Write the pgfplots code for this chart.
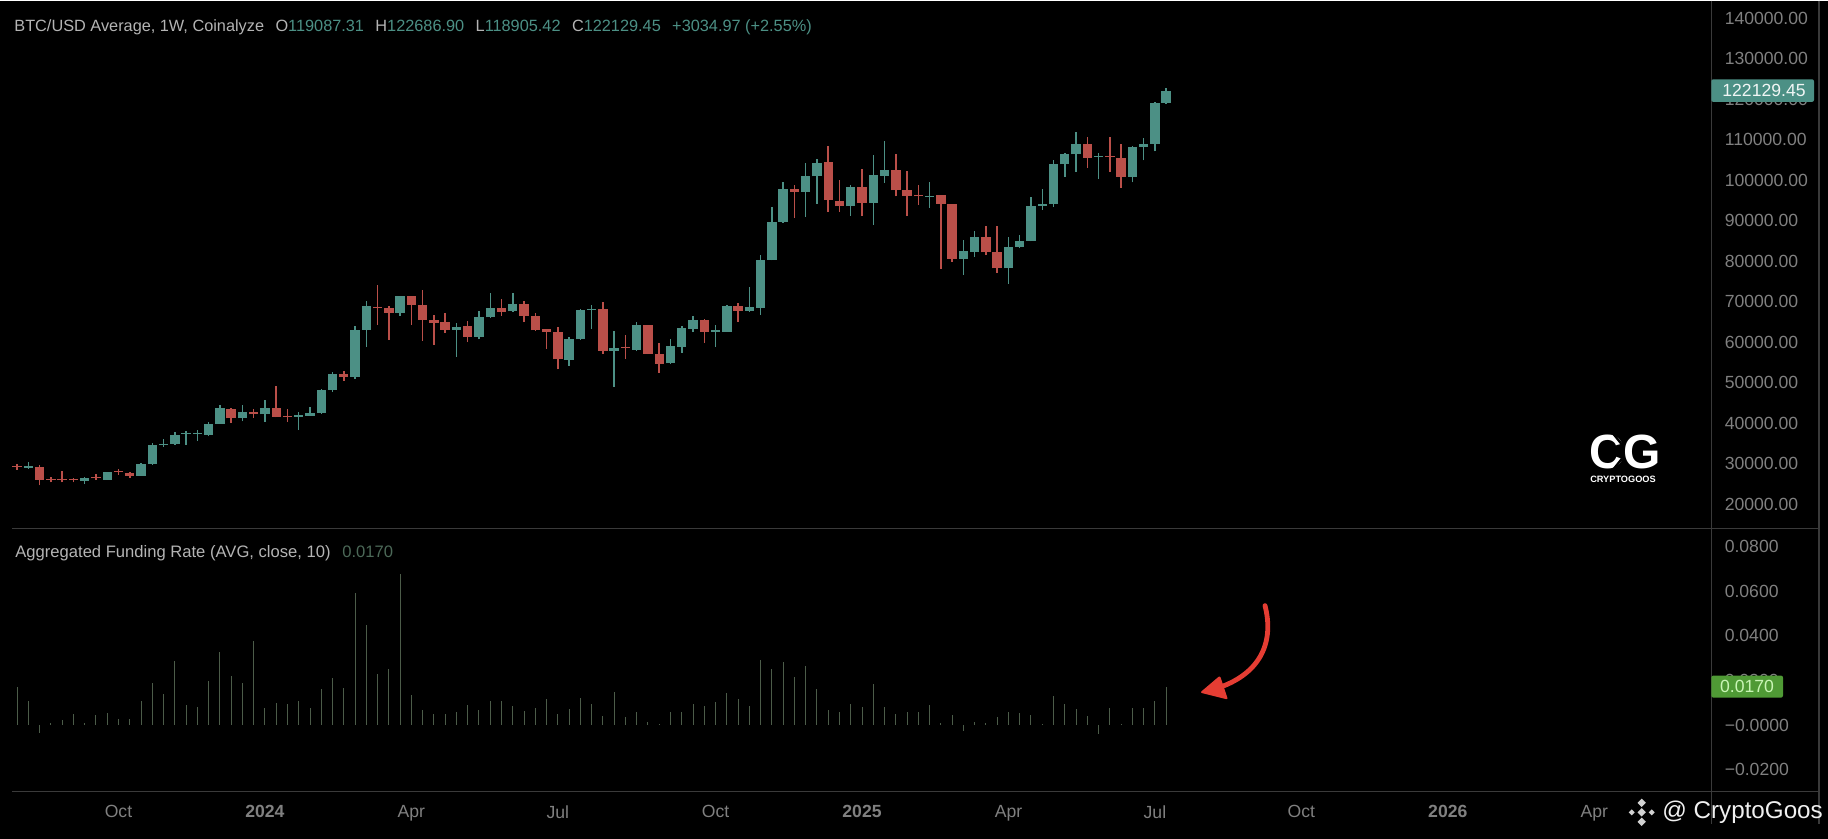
\documentclass[border=0pt]{standalone}
\usepackage{fontspec}
\setmainfont{Liberation Sans}
\usepackage{pgfplots}
\usepackage{pgfplotstable}
\pgfplotsset{compat=1.18}
\definecolor{bgc}{HTML}{000000}
\definecolor{cG}{HTML}{4C9085}
\definecolor{cR}{HTML}{BA4F49}
\definecolor{lineC}{HTML}{3A3A3A}
\definecolor{tickC}{HTML}{808080}
\definecolor{headC}{HTML}{B4B4B4}
\definecolor{barC}{HTML}{4C5C49}
\definecolor{arrowC}{HTML}{E53D33}
\definecolor{tagG}{HTML}{4F9A35}
\definecolor{tagT}{HTML}{C9F5B5}
\definecolor{wmC}{HTML}{D0D0D0}
\pgfplotstableread{
i o h l c
1 29060 30380 28730 29560
6 25690 26840 24950 26510
8 26100 28080 26020 27990
11 27090 30300 27010 29890
12 29890 35150 29800 34580
13 34580 36060 34250 34990
14 34910 37870 34740 37050
15 37380 38030 34740 37620
16 37380 38360 35730 37620
17 37210 40260 36800 39930
18 39930 44620 39840 43710
20 41240 44540 40500 42890
22 42230 45850 40420 43790
25 41660 42810 38450 41980
26 41900 43960 41820 42560
27 42480 48400 42400 48320
28 48240 52770 47750 52110
30 51530 64120 50960 63140
31 63140 70300 58940 68900
34 67170 71530 66510 71370
39 63140 64700 56470 63880
41 61410 67740 60750 66260
42 66180 72110 66100 68570
44 67660 72110 67580 69550
49 55650 61240 54160 60830
50 60750 68240 60670 68070
51 68070 69310 63380 68240
53 57950 62720 49060 58610
55 58200 64950 57790 64370
58 54820 60830 54740 59020
59 58940 64120 57460 63630
60 63380 66430 62480 65600
62 62640 64370 58860 62970
63 62640 69310 62560 69060
65 67740 73750 67580 68730
66 68570 81650 66760 80420
67 80330 93420 80250 89800
68 89800 99590 89550 97950
70 97120 104280 91030 101070
71 100990 105190 94160 104370
74 93580 98850 91280 98360
76 94410 106340 89060 101240
77 101160 109720 99350 102560
81 96050 99510 93260 96220
84 80580 85350 76630 82560
85 82310 87410 81160 85930
88 78280 86010 74490 83630
89 83540 86510 83210 85030
90 85030 95970 84940 93670
91 93670 97860 92680 94160
92 94240 105020 93420 104040
93 103950 106670 100830 106590
94 106420 112020 102060 108970
96 105850 106830 100420 106010
99 100830 108400 99510 108320
100 108230 110460 104940 109060
101 109060 119400 107160 119090
102 119087 122687 118905 122129
}\greentab
\pgfplotstableread{
i o h l c
0 29470 29970 28490 29150
2 29310 29640 24700 26020
3 26350 26840 25440 26020
4 26270 28160 25440 25940
5 26180 26510 25440 25940
7 26760 27420 25940 26430
9 28320 28820 27330 27990
10 27750 27990 26590 27090
19 43630 43710 40170 41240
21 42890 43550 41410 42230
23 43790 49140 41490 41570
24 41900 43550 40340 41570
29 52110 52930 50540 51530
32 68810 74080 64370 68400
33 68400 69060 60670 67170
35 71370 71450 64370 69310
36 69310 72930 60340 65520
37 65520 66840 59430 64860
38 64950 67330 62390 63050
40 64040 65360 60010 61410
43 68570 70790 66590 67580
45 69470 70130 64950 66430
46 66590 67170 62890 62970
47 63220 63220 58360 62480
48 62560 63710 53340 55810
52 68160 70050 57130 57950
54 58860 61820 55890 58610
56 64290 64370 57050 57130
57 57210 59760 52440 54660
61 65600 65690 59840 62640
64 69060 69640 65110 67740
69 97950 98850 90700 97210
72 104530 108400 92270 95070
73 94980 100000 92270 93580
75 98360 102880 91120 94410
78 102560 106590 96050 97530
79 97620 102390 91120 96220
80 96460 98930 94000 96050
82 96300 96380 78110 94160
83 94160 94240 79840 80580
86 86100 88810 81490 82230
87 82310 88650 77210 78280
95 108970 110790 103130 105600
97 105930 110790 102060 105760
98 105600 108970 98110 100830
}\redtab
\pgfplotstableread{
i f
0 0.0169
1 0.0107
2 -0.0034
3 0.0010
4 0.0022
5 0.0049
6 0.0007
7 0.0043
8 0.0052
9 0.0025
10 0.0025
11 0.0107
12 0.0190
13 0.0137
14 0.0288
15 0.0090
16 0.0079
17 0.0197
18 0.0327
19 0.0218
20 0.0187
21 0.0376
22 0.0076
23 0.0100
24 0.0094
25 0.0109
26 0.0076
27 0.0161
28 0.0211
29 0.0166
30 0.0590
31 0.0446
32 0.0227
33 0.0252
34 0.0676
35 0.0136
36 0.0067
37 0.0049
38 0.0049
39 0.0058
40 0.0088
41 0.0067
42 0.0109
43 0.0107
44 0.0085
45 0.0064
46 0.0075
47 0.0116
48 0.0048
49 0.0072
50 0.0121
51 0.0094
52 0.0042
53 0.0149
54 0.0034
55 0.0057
56 0.0012
57 0.0004
58 0.0057
59 0.0057
60 0.0093
61 0.0087
62 0.0102
63 0.0143
64 0.0118
65 0.0087
66 0.0291
67 0.0251
68 0.0284
69 0.0216
70 0.0264
71 0.0160
72 0.0067
73 0.0057
74 0.0093
75 0.0081
76 0.0182
77 0.0082
78 0.0049
79 0.0058
80 0.0057
81 0.0088
82 0.0007
83 0.0045
84 -0.0025
85 0.0012
86 0.0007
87 0.0037
88 0.0058
89 0.0052
90 0.0043
91 0.0004
92 0.0131
93 0.0093
94 0.0070
95 0.0042
96 -0.0040
97 0.0078
98 0.0006
99 0.0078
100 0.0076
101 0.0107
102 0.0170
}\fundtab
\pgfplotsset{
  panel/.style={
    scale only axis, width=855.65pt,
    xmin=-1.518, xmax=150.39,
    axis line style={draw=none},
    major tick length=0pt, minor tick length=0pt,
    ytick pos=right, grid=none,
    tick label style={text=tickC, font=\fontsize{8.8}{10}\selectfont},
    yticklabel style={anchor=west, xshift=3.2pt},
    /pgf/number format/assume math mode=true,
  }
}
\begin{document}
\begin{tikzpicture}
\begin{scope}[x=0.5pt,y=-0.5pt]
\fill[bgc] (0,0) rectangle (1828,838);
\end{scope}
\begin{axis}[panel, at={(0pt,0pt)}, anchor=north west, height=264.15pt,
  ymin=13926, ymax=144365,
  ytick={20000,30000,40000,50000,60000,70000,80000,90000,100000,110000,120000,130000,140000},
  scaled y ticks=false,
  yticklabel style={/pgf/number format/.cd, fixed, fixed zerofill, precision=2, 1000 sep={}},
  xtick=\empty]
\addplot[draw=none, forget plot, error bars/.cd, y dir=plus, y explicit, error mark=none,
  error bar style={draw=cG, line width=0.75pt}]
  table[x=i, y=l, y error plus expr=\thisrow{h}-\thisrow{l}, y error minus expr=0] {\greentab};
\addplot[draw=none, forget plot, error bars/.cd, y dir=plus, y explicit, error mark=none,
  error bar style={draw=cR, line width=0.75pt}]
  table[x=i, y=l, y error plus expr=\thisrow{h}-\thisrow{l}, y error minus expr=0] {\redtab};
\addplot[draw=none, forget plot, error bars/.cd, y dir=plus, y explicit, error mark=none,
  error bar style={draw=cG, line width=4.7pt}]
  table[x=i, y=o, y error plus expr=\thisrow{c}-\thisrow{o}, y error minus expr=0] {\greentab};
\addplot[draw=none, forget plot, error bars/.cd, y dir=plus, y explicit, error mark=none,
  error bar style={draw=cR, line width=4.7pt}]
  table[x=i, y=c, y error plus expr=\thisrow{o}-\thisrow{c}, y error minus expr=0] {\redtab};
\end{axis}
\begin{axis}[panel, at={(0pt,-264.15pt)}, anchor=north west, height=131.35pt,
  ymin=-0.02983, ymax=0.08782,
  scaled y ticks=false,
  ytick={-0.02,0,0.02,0.04,0.06,0.08},
  yticklabels={{−0.0200},{−0.0000},{0.0200},{0.0400},{0.0600},{0.0800}},
  xtick={9,22,35,48,62,75,88,101,114,127,140},
  xticklabels={Oct,\textbf{2024},Apr,Jul,Oct,\textbf{2025},Apr,Jul,Oct,\textbf{2026},Apr},
  xticklabel style={anchor=north, yshift=-3.5pt}]
\addplot[ycomb, draw=barC, line width=0.5pt, mark=none] table[x=i, y=f] {\fundtab};
\end{axis}
\begin{scope}[x=0.5pt,y=-0.5pt]
\draw[lineC, line width=0.6pt] (12,528.3) -- (1819,528.3);
\draw[lineC, line width=0.6pt] (12,791) -- (1819,791);
\draw[lineC, line width=0.6pt] (1711.3,0) -- (1711.3,823);
\draw[lineC, line width=0.6pt] (1819,0) -- (1819,823);
% value tags
\fill[cG!100!white, rounded corners=1pt] (1711.3,78.7) rectangle (1814,101.3);
\node[anchor=center, text=white!92!cG, font=\fontsize{8.8}{10}\selectfont] at (1764,90) {122129.45};
\fill[tagG, rounded corners=1pt] (1711.3,675) rectangle (1783,697);
\node[anchor=center, text=tagT, font=\fontsize{8.8}{10}\selectfont] at (1747,686) {0.0170};
% headers
\node[anchor=west, inner sep=0pt, font=\fontsize{8.15}{10}\selectfont] at (14,27)
  {\textcolor{headC}{BTC/USD Average, 1W, Coinalyze}\hspace{0.7em}\textcolor{headC}{O}\textcolor{cG}{119087.31}\hspace{0.7em}\textcolor{headC}{H}\textcolor{cG}{122686.90}\hspace{0.7em}\textcolor{headC}{L}\textcolor{cG}{118905.42}\hspace{0.7em}\textcolor{headC}{C}\textcolor{cG}{122129.45}\hspace{0.7em}\textcolor{cG}{+3034.97 (+2.55\%)}};
\node[anchor=west, inner sep=0pt, font=\fontsize{8.3}{10}\selectfont] at (15,553)
  {\textcolor{headC}{Aggregated Funding Rate (AVG, close, 10)}\hspace{0.7em}\textcolor{barC!75!cG}{0.0170}};
% arrow
\draw[arrowC, line width=2.4pt, line cap=round] (1265,605) .. controls (1274,640) and (1262,672) .. (1219,687);
\fill[arrowC, rounded corners=1pt] (1200,692) -- (1220,675) -- (1228,699) -- cycle;
% logo
\node[anchor=center, inner sep=0pt, text=white, font=\fontsize{24}{24}\selectfont\bfseries] at (1607,451) {C};
\node[anchor=center, inner sep=0pt, text=white, font=\fontsize{24}{24}\selectfont\bfseries] at (1642,451) {G};
\draw[black, line width=1.2pt] (1606,424) -- (1622,444);
\draw[black, line width=1.2pt] (1606,478) -- (1622,458);
\node[anchor=center, inner sep=0pt, text=white, font=\fontsize{4.6}{5}\selectfont\bfseries] at (1623,479) {CRYPTOGOOS};
% watermark
\foreach \dx/\dy/\r in {0/0/4.2,0/-9.5/4.2,0/9.5/4.2,-10/0/3,10/0/3} {
  \fill[wmC] (1641.7+\dx,811.7+\dy-\r) -- (1641.7+\dx+\r,811.7+\dy) -- (1641.7+\dx,811.7+\dy+\r) -- (1641.7+\dx-\r,811.7+\dy) -- cycle;
}
\node[anchor=west, inner sep=0pt, text=white!94!black, font=\fontsize{12.1}{14}\selectfont] at (1662,812) {@ CryptoGoos};
\end{scope}
\end{tikzpicture}
\end{document}
